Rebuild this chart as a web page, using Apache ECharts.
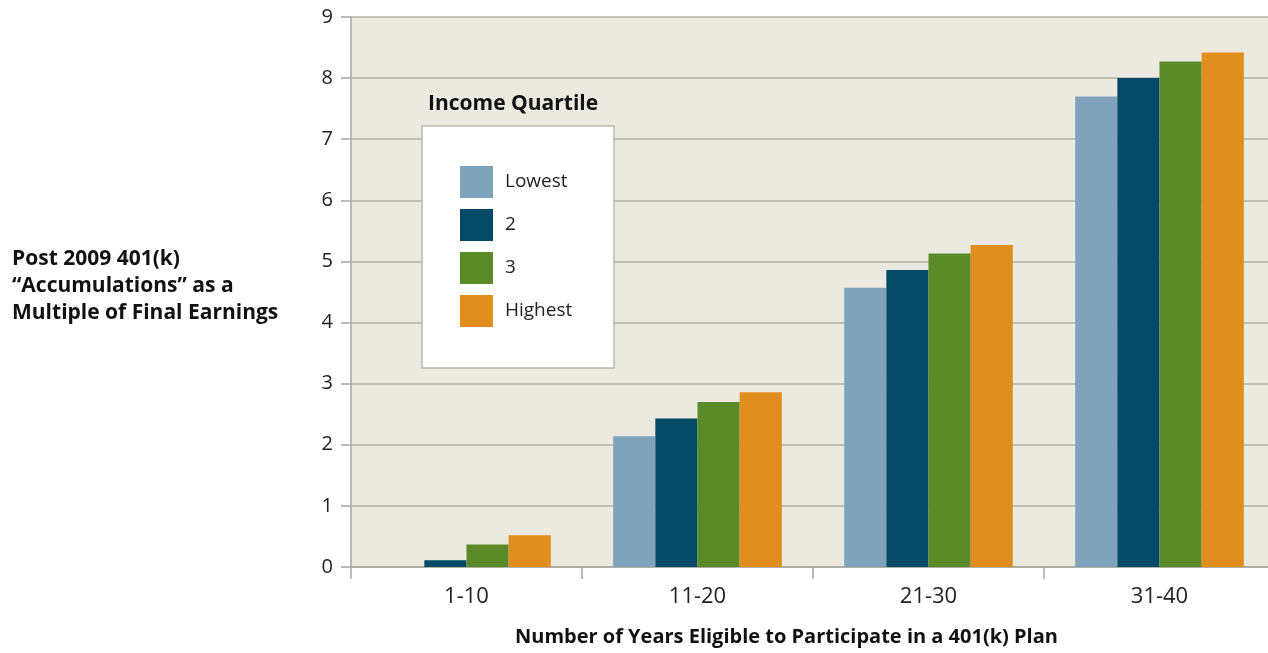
<!DOCTYPE html>
<html><head><meta charset="utf-8">
<script src="https://cdn.jsdelivr.net/npm/echarts@6/dist/echarts.min.js"></script>
<style>html,body{margin:0;padding:0;background:#fff;overflow:hidden}#c{width:1275px;height:653px}</style>
</head><body><div id="c"></div>
<script>
const categories = ['1-10', '11-20', '21-30', '31-40'];
const seriesNames = ['Lowest', '2', '3', 'Highest'];
const lowest = [0, 2.14, 4.57, 7.70];
const q2 = [0.11, 2.43, 4.86, 8.00];
const q3 = [0.37, 2.70, 5.13, 8.27];
const highest = [0.52, 2.86, 5.27, 8.42];
const yTicks = [0, 1, 2, 3, 4, 5, 6, 7, 8, 9];
const colors = ['#7FA3BA', '#034A67', '#5B8A29', '#E08E1E'];
const FONT = 'Open Sans';
const values = [lowest, q2, q3, highest];

const chart = echarts.init(document.getElementById('c'));
chart.setOption({
  animation: false,
  textStyle: { fontFamily: FONT },
  grid: { left: 351, top: 17, bottom: 86, right: 0, show: true, backgroundColor: '#ECE9E0', borderWidth: 0 },
  graphic: [
    { type: 'rect', z: 50, shape: { x: 422, y: 126, width: 192, height: 242 },
      style: { fill: '#ffffff', stroke: '#b9b6ad', lineWidth: 1.5 } },
    { type: 'text', z: 60, left: 428, top: 94,
      style: { text: 'Income Quartile', font: 'bold 21px "Open Sans"', fill: '#111' } },
    { type: 'text', z: 60, left: 12, top: 246,
      style: { text: 'Post 2009 401(k)\n\u201cAccumulations\u201d as a\nMultiple of Final Earnings',
        font: 'bold 21px "Open Sans"', fill: '#111', lineHeight: 27 } },
    { type: 'text', z: 60, left: 515, top: 627,
      style: { text: 'Number of Years Eligible to Participate in a 401(k) Plan',
        font: 'bold 20px "Open Sans"', fill: '#111' } }
  ],
  legend: {
    z: 100, orient: 'vertical', left: 460, top: 166, padding: 0,
    itemWidth: 33, itemHeight: 32, itemGap: 11, icon: 'rect',
    textStyle: { fontSize: 19, color: '#222', padding: [0, 0, 0, 7] },
    data: seriesNames
  },
  xAxis: {
    type: 'category', data: categories,
    axisLine: { lineStyle: { color: '#a9a69d', width: 1.5 } },
    axisTick: { show: true, length: 12, lineStyle: { color: '#a9a69d', width: 1.5 } },
    axisLabel: { fontSize: 22, color: '#222', margin: 19 },
    splitLine: { show: false }
  },
  yAxis: {
    type: 'value', min: yTicks[0], max: yTicks[yTicks.length - 1], interval: 1,
    axisLine: { show: true, lineStyle: { color: '#a9a69d', width: 1.5 } },
    axisTick: { show: true, length: 10, lineStyle: { color: '#a9a69d', width: 1.5 } },
    axisLabel: { fontSize: 20, color: '#222', margin: 18 },
    splitLine: { lineStyle: { color: '#b5b2a8', width: 1.5 } }
  },
  series: seriesNames.map((n, i) => ({
    name: n, type: 'bar', data: values[i], barGap: '0%', barCategoryGap: '27%',
    itemStyle: { color: colors[i] }
  }))
});
</script></body></html>
